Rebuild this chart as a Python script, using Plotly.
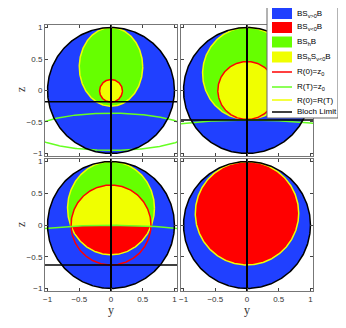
"""
Bloch-sphere regions, four panels (y-z plane)
"""

import numpy as np
import plotly.graph_objects as go
from plotly.subplots import make_subplots

# panel order: top-left, top-right, bottom-left, bottom-right
# BS_h B region (ellipse): centre z, half-width in y, half-height in z
green_cz = [0.375, 0.27, 0.265, None]
green_ry = [0.5, 0.70, 0.685, None]
green_rz = [0.625, 0.73, 0.735, None]
# inner circle: centre z and radius
inner_cz = [-0.005, 0.0, 0.0, 0.185]
inner_r = [0.18, 0.46, 0.63, 0.815]
# horizontal Bloch limit line
limit_z = [-0.18, -0.47, -0.632, None]
# R(T)=z0 curve (ellipse): centre z, half-width, half-height
rt_cz = [-0.655, -0.97, -1.005, None]
rt_ry = [1.25, 2.36, 3.47, None]
rt_rz = [0.295, 0.5, 1.0, None]

tick_vals = [-1, -0.5, 0, 0.5, 1]
tick_text = ['\u22121', '\u22120.5', '0', '0.5', '1']

legend_keys = ['blue', 'red', 'green', 'yellow',
               'red_line', 'green_line', 'yellow_line', 'black_line']
legend_names = ['BS<sub>v&gt;0</sub>B', 'BS<sub>v&lt;0</sub>B', 'BS<sub>h</sub>B',
                'BS<sub>h</sub>S<sub>v&lt;0</sub>B', 'R(0)=z<sub>0</sub>',
                'R(T)=z<sub>0</sub>', 'R(0)=R(T)', 'Bloch Limit']

BLUE = '#2040ff'
RED = '#ff0000'
GREEN = '#66ff00'
YELLOW = '#f0ff00'
LGREEN = '#66ff22'
colors = {'blue': BLUE, 'red': RED, 'green': GREEN, 'yellow': YELLOW,
          'red_line': RED, 'green_line': LGREEN, 'yellow_line': YELLOW,
          'black_line': 'black'}


def ellipse(cz, ry, rz, n=400):
    t = np.linspace(0, 2 * np.pi, n)
    return ry * np.cos(t), cz + rz * np.sin(t)


def inside(shape, y, z):
    cz, ry, rz = shape
    return (y / ry) ** 2 + ((z - cz) / rz) ** 2 <= 1 + 1e-9


def convex_intersection(shapes):
    pts = []
    for i, s in enumerate(shapes):
        y, z = ellipse(*s, n=800)
        mask = np.ones_like(y, dtype=bool)
        for j, o in enumerate(shapes):
            if j != i:
                mask &= inside(o, y, z)
        pts.append(np.c_[y[mask], z[mask]])
    P = np.vstack(pts)
    c = P.mean(axis=0)
    P = P[np.argsort(np.arctan2(P[:, 1] - c[1], P[:, 0] - c[0]))]
    P = np.vstack([P, P[:1]])
    return P[:, 0], P[:, 1]


fig = make_subplots(rows=2, cols=2)


def add(y, z, row, col, color, fill=False, width=1.5):
    kw = dict(x=y, y=z, mode='lines', showlegend=False, hoverinfo='skip')
    if fill:
        kw.update(fill='toself', fillcolor=color, line=dict(width=0, color=color))
    else:
        kw.update(line=dict(width=width, color=color))
    fig.add_trace(go.Scatter(**kw), row=row, col=col)


for p in range(4):
    row, col = p // 2 + 1, p % 2 + 1
    bloch = (0.0, 1.0, 1.0)
    inner = (inner_cz[p], inner_r[p], inner_r[p])

    # filled regions
    add(*ellipse(*bloch), row, col, BLUE, fill=True)
    if green_cz[p] is not None:
        green = (green_cz[p], green_ry[p], green_rz[p])
        add(*ellipse(*green), row, col, GREEN, fill=True)
    if p in (0, 1):
        add(*ellipse(*inner), row, col, YELLOW, fill=True)
    elif p == 2:
        rt = (rt_cz[p], rt_ry[p], rt_rz[p])
        add(*convex_intersection([inner, green]), row, col, YELLOW, fill=True)
        add(*convex_intersection([inner, green, rt]), row, col, RED, fill=True)
    else:
        add(*ellipse(*inner), row, col, RED, fill=True)

    # boundary curves
    if green_cz[p] is not None:
        add(*ellipse(*green), row, col, YELLOW)
    if p < 3:
        add(*ellipse(*inner), row, col, RED)
    else:
        add(*ellipse(*inner), row, col, YELLOW)
    if rt_cz[p] is not None:
        add(*ellipse(rt_cz[p], rt_ry[p], rt_rz[p]), row, col, LGREEN)

    # Bloch limit
    add(*ellipse(*bloch), row, col, 'black', width=1.5)
    add([0, 0], [-1.04, 1.04], row, col, 'black', width=2)
    if limit_z[p] is not None:
        add([-1.04, 1.04], [limit_z[p]] * 2, row, col, 'black', width=1.5)

# the page body adds an 8px margin, so the figure is drawn 8px in and 8px smaller
OFF = 8
W, H = 346 - OFF, 328 - OFF


def px(x):
    return (x - OFF) / W


def py(y):
    return 1 - (y - OFF) / H


xdom = [(px(45), px(177)), (px(181), px(313))]
ydom = [(py(156), py(25)), (py(291), py(159))]

axis_style = dict(range=[-1.04, 1.04], tickvals=tick_vals, ticktext=tick_text,
                  ticks='inside', ticklen=3, tickcolor='#444', showline=True,
                  linecolor='#777', linewidth=1, mirror='ticks', showgrid=False,
                  zeroline=False, tickfont=dict(family='Liberation Sans', size=8, color='#333'),
                  fixedrange=True, automargin=False)

for p in range(4):
    row, col = p // 2, p % 2
    n = '' if p == 0 else str(p + 1)
    xa = dict(axis_style, domain=xdom[col], showticklabels=(row == 1))
    ya = dict(axis_style, domain=ydom[row], showticklabels=(col == 0))
    fig.layout['xaxis' + n].update(xa)
    fig.layout['yaxis' + n].update(ya)

title_font = dict(family='Liberation Serif', size=12, color='#333')
annotations = []
for xx in (111, 247):
    annotations.append(dict(xref='paper', yref='paper', x=px(xx), y=py(310), text='y',
                            showarrow=False, xanchor='center', yanchor='middle', font=title_font))
for yy in (90, 225):
    annotations.append(dict(xref='paper', yref='paper', x=px(21), y=py(yy), text='z',
                            showarrow=False, xanchor='center', yanchor='middle',
                            textangle=-90, font=title_font))

# legend drawn by hand so the rows stay as tight as the reference
box_l, box_r, box_t, box_b = 267, 338, 5, 118
row_y = [13.5, 27.5, 42, 57, 72, 87, 100, 112]
icon_l, icon_r, text_x = 272, 292, 295

shapes = [dict(type='rect', xref='paper', yref='paper', x0=px(box_l), x1=px(box_r),
               y0=py(box_b), y1=py(box_t), fillcolor='white',
               line=dict(color='#666', width=1), layer='above')]
for key, name, yy in zip(legend_keys, legend_names, row_y):
    if key.endswith('_line'):
        shapes.append(dict(type='line', xref='paper', yref='paper', x0=px(icon_l), x1=px(icon_r),
                           y0=py(yy), y1=py(yy), line=dict(color=colors[key], width=1.5),
                           layer='above'))
    else:
        shapes.append(dict(type='rect', xref='paper', yref='paper', x0=px(icon_l), x1=px(icon_r),
                           y0=py(yy + 5.5), y1=py(yy - 5.5), fillcolor=colors[key],
                           line=dict(width=0), layer='above'))
    annotations.append(dict(xref='paper', yref='paper', x=px(text_x), y=py(yy),
                            xanchor='left', yanchor='middle', text=name, showarrow=False,
                            font=dict(family='Liberation Sans', size=8, color='black')))

fig.update_layout(
    width=W, height=H,
    margin=dict(l=0, r=0, t=0, b=0),
    plot_bgcolor='white', paper_bgcolor='white',
    showlegend=False,
    shapes=shapes, annotations=annotations,
)

fig.write_html("out.html")
